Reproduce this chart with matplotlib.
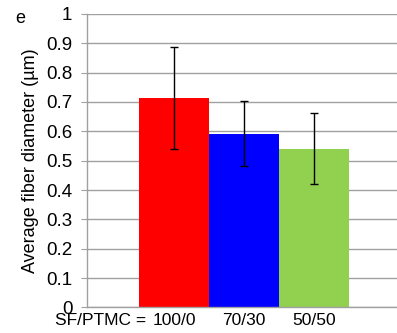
import numpy as np
import matplotlib
matplotlib.use("Agg")
from matplotlib import pyplot as plt

plt.rcParams['font.family'] = ['Liberation Sans', 'DejaVu Sans']

# Data
labels = ["100/0", "70/30", "50/50"]
means = [0.713, 0.592, 0.541]
err_lo = [0.174, 0.110, 0.121]
err_hi = [0.176, 0.111, 0.121]
colors = ["#ff0000", "#0000ff", "#92d050"]

fig = plt.figure(figsize=(3.97, 3.33), dpi=100)
ax = fig.add_axes([0.219, 0.077, 0.781, 0.881])

x = np.arange(len(labels))
ax.bar(x, means, width=1.0, color=colors, zorder=2)
ax.errorbar(x, means, yerr=[err_lo, err_hi], fmt='none', ecolor='black',
            elinewidth=1.0, capsize=3, capthick=1.0, zorder=3)

ax.set_xlim(-1.243, 3.19)
ax.set_ylim(0, 1)
ax.set_yticks(np.arange(0, 1.01, 0.1))
ax.set_yticklabels(["0"] + ["%.1f" % v for v in np.arange(0.1, 0.95, 0.1)] + ["1"])
ax.set_xticks(x)
ax.set_xticklabels(labels)

ax.grid(axis='y', color='#a0a0a0', linewidth=1.0, zorder=0)
for s in ['top', 'right']:
    ax.spines[s].set_visible(False)
for s in ['left', 'bottom']:
    ax.spines[s].set_color('#a0a0a0')
    ax.spines[s].set_linewidth(1.0)
ax.tick_params(axis='y', length=4, color='#a0a0a0', labelsize=13.5, pad=6.5)
ax.tick_params(axis='x', length=0, labelsize=12.5, pad=4)

ax.set_ylabel("Average fiber diameter (µm)", fontsize=13, labelpad=5)

# prefix before the first category label
ax.annotate("SF/PTMC = ", xy=(0, 0), xycoords=('data', 'axes fraction'),
            xytext=(-16.5, -4), textcoords='offset points',
            ha='right', va='top', fontsize=12.5)

fig.text(0.038, 0.943, "e", fontsize=13, ha='left', va='center')

plt.savefig("out.png", dpi=100)
